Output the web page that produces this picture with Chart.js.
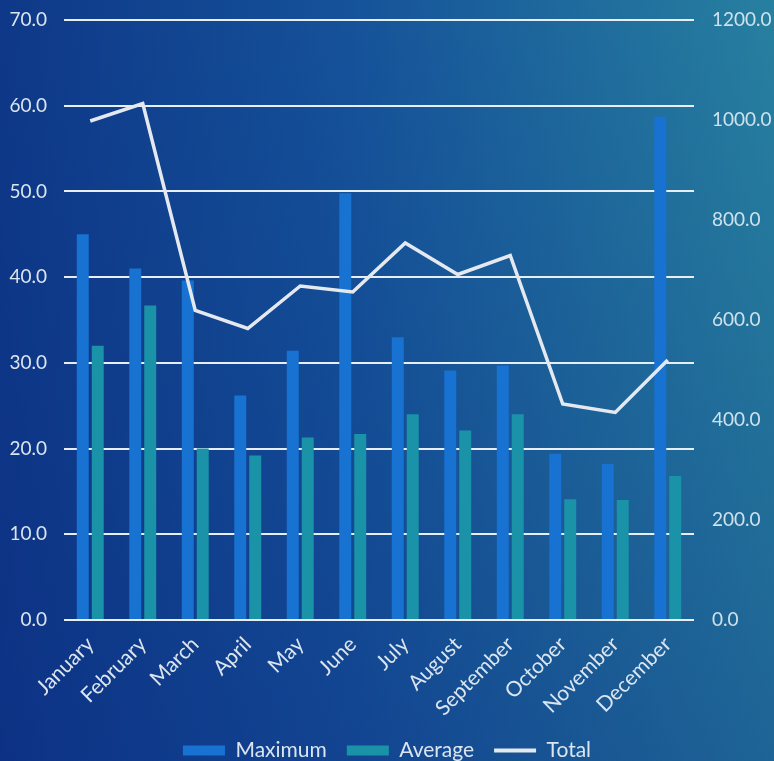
<!DOCTYPE html>
<html>
<head>
<meta charset="utf-8">
<script src="https://cdn.jsdelivr.net/npm/chart.js@4/dist/chart.umd.min.js"></script>
<style>
  html, body { margin: 0; padding: 0; background: #0f3b8b; }
  #wrap { width: 774px; height: 761px; position: relative; }
</style>
</head>
<body>
<div id="wrap"><canvas id="chart" width="774" height="761"></canvas></div>
<script>
const months = ['January', 'February', 'March', 'April', 'May', 'June', 'July',
  'August', 'September', 'October', 'November', 'December'];
const maximumValues = [45.0, 41.0, 39.6, 26.2, 31.4, 49.8, 33.0, 29.1, 29.7, 19.4, 18.2, 58.7];
const averageValues = [32.0, 36.7, 20.0, 19.2, 21.3, 21.7, 24.0, 22.1, 24.0, 14.1, 14.0, 16.8];
const totalValues = [998, 1033, 619, 583, 668, 656, 754, 691, 729, 432, 415, 520];
const leftTicks = [0, 10, 20, 30, 40, 50, 60, 70];
const rightTicks = [0, 200, 400, 600, 800, 1000, 1200];

const FONT = 'Lato, "Open Sans", sans-serif';
const TEXT = '#dbe5ef';

// Blue-to-teal backdrop behind the whole canvas
const backdrop = {
  id: 'backdrop',
  beforeDraw(chart) {
    const { ctx, width, height } = chart;
    ctx.save();
    const h = ctx.createLinearGradient(0, 0, width, 0);
    h.addColorStop(0, '#0e3888');
    h.addColorStop(0.45, '#15529a');
    h.addColorStop(1, '#2780a0');
    ctx.fillStyle = h;
    ctx.fillRect(0, 0, width, height);
    const v = ctx.createLinearGradient(0, 0, 0, height);
    v.addColorStop(0, 'rgba(10,40,120,0)');
    v.addColorStop(1, 'rgba(10,35,125,0.3)');
    ctx.fillStyle = v;
    ctx.fillRect(0, 0, width, height);
    ctx.restore();
  }
};

// vertical axes keep no extra edge padding so the plot spans the full height
function fixVertical(width) {
  return scale => {
    scale.width = width;
    scale.paddingTop = 0;
    scale.paddingBottom = 0;
  };
}

new Chart(document.getElementById('chart'), {
  type: 'bar',
  data: {
    labels: months,
    datasets: [
      {
        label: 'Maximum',
        data: maximumValues,
        backgroundColor: '#1872d2',
        yAxisID: 'y',
        categoryPercentage: 0.57,
        barPercentage: 0.8,
        order: 2
      },
      {
        label: 'Average',
        data: averageValues,
        backgroundColor: '#1a93a8',
        yAxisID: 'y',
        categoryPercentage: 0.57,
        barPercentage: 0.8,
        order: 2
      },
      {
        type: 'line',
        label: 'Total',
        data: totalValues,
        borderColor: '#e4e9f0',
        backgroundColor: '#e4e9f0',
        borderWidth: 3.5,
        pointRadius: 0,
        tension: 0,
        yAxisID: 'y1',
        order: 1
      }
    ]
  },
  options: {
    responsive: false,
    animation: false,
    layout: { padding: { top: 20, bottom: -10, left: 0, right: 0 } },
    plugins: {
      tooltip: { enabled: false },
      legend: {
        position: 'bottom',
        labels: {
          color: TEXT,
          font: { family: FONT, size: 21 },
          boxWidth: 42,
          boxHeight: 10,
          padding: 20,
          usePointStyle: true,
          pointStyleWidth: 42,
          sort: (a, b) => a.datasetIndex - b.datasetIndex,
          generateLabels(chart) {
            return Chart.defaults.plugins.legend.labels.generateLabels(chart).map(l => {
              if (l.datasetIndex === 2) {
                return { ...l, pointStyle: 'line', lineWidth: 4 };
              }
              return { ...l, pointStyle: 'rect', lineWidth: 0 };
            });
          }
        }
      }
    },
    scales: {
      x: {
        grid: { display: false, drawTicks: false },
        border: { display: false },
        ticks: {
          color: TEXT,
          font: { family: FONT, size: 21 },
          minRotation: 45,
          maxRotation: 45,
          padding: 12
        },
        afterFit(scale) { scale.height = 100; }
      },
      y: {
        position: 'left',
        min: 0,
        max: 70,
        afterBuildTicks(scale) { scale.ticks = leftTicks.map(v => ({ value: v })); },
        grid: { color: '#e8eef5', lineWidth: 2, drawTicks: false },
        border: { display: false },
        ticks: {
          color: TEXT,
          font: { family: FONT, size: 19 },
          padding: 17,
          callback: v => Number(v).toFixed(1)
        },
        afterFit: fixVertical(64)
      },
      y1: {
        position: 'right',
        min: 0,
        max: 1200,
        afterBuildTicks(scale) { scale.ticks = rightTicks.map(v => ({ value: v })); },
        grid: { display: false, drawTicks: false },
        border: { display: false },
        ticks: {
          color: '#cfe2ec',
          font: { family: FONT, size: 19 },
          padding: 18,
          callback: v => Number(v).toFixed(1)
        },
        afterFit: fixVertical(80)
      }
    }
  },
  plugins: [backdrop]
});
</script>
</body>
</html>
